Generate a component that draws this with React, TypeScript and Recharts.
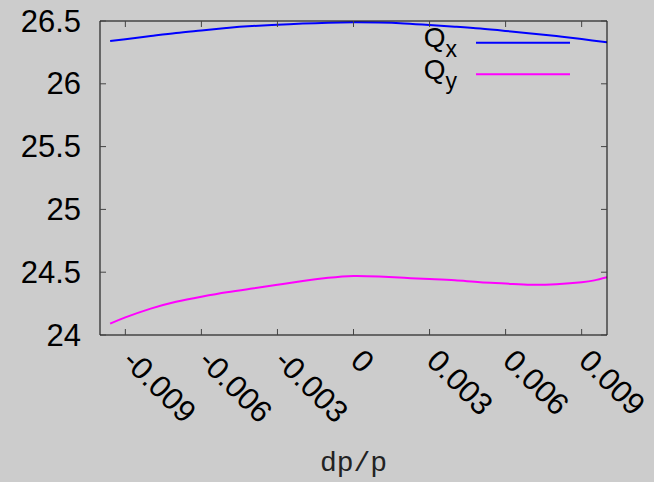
import { LineChart, Line, XAxis, YAxis, Legend } from "recharts";

const dp = [-0.0096, -0.009, -0.008, -0.007, -0.006, -0.005, -0.004, -0.003, -0.002, -0.001, 0, 0.001, 0.002, 0.003, 0.004, 0.005, 0.006, 0.007, 0.008, 0.009, 0.0095, 0.01];
const qx = [26.34, 26.355, 26.38, 26.405, 26.425, 26.445, 26.46, 26.47, 26.48, 26.487, 26.49, 26.488, 26.481, 26.469, 26.455, 26.44, 26.421, 26.401, 26.38, 26.356, 26.343, 26.33];
const qy = [24.09, 24.14, 24.21, 24.265, 24.305, 24.34, 24.37, 24.4, 24.43, 24.455, 24.47, 24.465, 24.455, 24.445, 24.435, 24.42, 24.41, 24.4, 24.405, 24.42, 24.435, 24.46];

const xTicks = [-0.009, -0.006, -0.003, 0, 0.003, 0.006, 0.009];
const yTicks = [24, 24.5, 25, 25.5, 26, 26.5];
const subLabels = ["x", "y"];

const data = dp.map((d, i) => ({ dp: d, qx: qx[i], qy: qy[i] }));

const FONT = "'Liberation Sans', Arial, sans-serif";
const TICK_LEN = 6;
const TICK_COLOR = "#444";

const fmtX = (v: number) => (v === 0 ? "0" : v.toFixed(3));

const LeftTick = (props: any) => {
    const { x, y, payload } = props;
    const axisX = x + 19;
    return (
        <g>
            <line x1={axisX} x2={axisX + TICK_LEN} y1={y} y2={y} stroke={TICK_COLOR} />
            <text x={x} y={y} textAnchor="end" dominantBaseline="central" fontSize={31} fontFamily={FONT} fill="#000">
                {payload.value}
            </text>
        </g>
    );
};

const RightTick = (props: any) => {
    const { x, y } = props;
    return <line x1={x - TICK_LEN} x2={x} y1={y} y2={y} stroke={TICK_COLOR} />;
};

const TopTick = (props: any) => {
    const { x, y } = props;
    return <line x1={x} x2={x} y1={y} y2={y + TICK_LEN} stroke={TICK_COLOR} />;
};

const BottomTick = (props: any) => {
    const { x, y, payload } = props;
    const axisY = y - 17;
    const tx = x + 3;
    const ty = y + 3;
    return (
        <g>
            <line x1={x} x2={x} y1={axisY} y2={axisY - TICK_LEN} stroke={TICK_COLOR} />
            <text
                x={tx}
                y={ty}
                transform={`rotate(45, ${tx}, ${ty})`}
                textAnchor="start"
                dominantBaseline="central"
                fontSize={31}
                fontFamily={FONT}
                fill="#000"
            >
                {fmtX(payload.value)}
            </text>
        </g>
    );
};

const KeyContent = (props: any) => {
    const { payload } = props;
    return (
        <svg width={170} height={95} style={{ overflow: "visible" }}>
            {(payload || []).map((entry: any, i: number) => (
                <g key={i}>
                    <text x={47} y={25 + i * 31.6} textAnchor="end" fontFamily={FONT} fill="#000">
                        <tspan fontSize={28}>Q</tspan>
                        <tspan fontSize={23} dy={10}>{subLabels[i]}</tspan>
                    </text>
                    <line x1={66} x2={160} y1={20.7 + i * 31.6} y2={20.7 + i * 31.6} stroke={entry.color} strokeWidth={2} />
                </g>
            ))}
        </svg>
    );
};

export default function App() {
    return (
        <div style={{ position: "absolute", left: 0, top: 0, width: 654, height: 482, background: "#cccccc" }}>
            <LineChart width={654} height={482} data={data} margin={{ top: 0, right: 0, left: 0, bottom: 0 }}>
                <XAxis
                    dataKey="dp"
                    type="number"
                    domain={[-0.01, 0.01]}
                    ticks={xTicks}
                    allowDataOverflow
                    height={147}
                    tickSize={0}
                    tickMargin={17}
                    tick={<BottomTick />}
                    tickLine={false}
                    axisLine={{ stroke: "#000", strokeWidth: 1 }}
                    label={{ value: "dp/p", position: "insideBottom", offset: 11, fontSize: 28, fontFamily: "'Liberation Mono', 'Courier New', monospace", fill: "#222" }}
                />
                <XAxis
                    xAxisId="t"
                    orientation="top"
                    dataKey="dp"
                    type="number"
                    domain={[-0.01, 0.01]}
                    ticks={xTicks}
                    allowDataOverflow
                    height={21}
                    tickSize={0}
                    tickMargin={0}
                    tick={<TopTick />}
                    tickLine={false}
                    axisLine={{ stroke: "#000", strokeWidth: 1 }}
                />
                <YAxis
                    type="number"
                    domain={[24, 26.5]}
                    ticks={yTicks}
                    allowDataOverflow
                    width={100}
                    tickSize={0}
                    tickMargin={19}
                    tick={<LeftTick />}
                    tickLine={false}
                    axisLine={{ stroke: "#000", strokeWidth: 1 }}
                />
                <YAxis
                    yAxisId="r"
                    orientation="right"
                    type="number"
                    domain={[24, 26.5]}
                    ticks={yTicks}
                    allowDataOverflow
                    width={47}
                    tickSize={0}
                    tickMargin={0}
                    tick={<RightTick />}
                    tickLine={false}
                    axisLine={{ stroke: "#000", strokeWidth: 1 }}
                />
                <Legend
                    layout="vertical"
                    align="center"
                    verticalAlign="middle"
                    content={<KeyContent />}
                    wrapperStyle={{ left: 410, top: 22, width: 170, height: 95 }}
                />
                <Line type="natural" dataKey="qx" name="Qx" stroke="#0000ff" strokeWidth={2} dot={false} isAnimationActive={false} />
                <Line type="natural" dataKey="qy" name="Qy" stroke="#ff00ff" strokeWidth={2} dot={false} isAnimationActive={false} />
            </LineChart>
        </div>
    );
}
